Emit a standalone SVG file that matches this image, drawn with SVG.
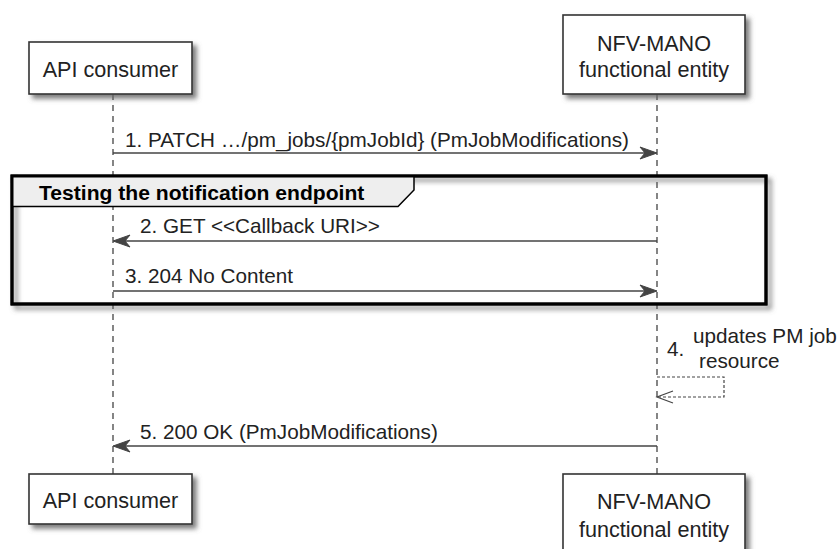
<svg xmlns="http://www.w3.org/2000/svg" width="839" height="549" viewBox="0 0 839 549">
<defs>
<filter id="sh" x="-10%" y="-10%" width="130%" height="140%">
<feDropShadow dx="4" dy="4" stdDeviation="2.5" flood-color="#666" flood-opacity="0.85"/>
</filter>
<style>
.box{fill:#fff;stroke:#333;stroke-width:1.6}
.lbl{font-family:"Liberation Sans",Arial,sans-serif;font-size:21.6px;fill:#222;text-anchor:middle}
.msg{font-family:"Liberation Sans",Arial,sans-serif;font-size:20.7px;fill:#222}
.life{stroke:#444;stroke-width:1.3;stroke-dasharray:6,5;fill:none}
.line{stroke:#444;stroke-width:1.3;fill:none}
.head{fill:#444;stroke:#444;stroke-width:1}
</style>
</defs>
<rect width="839" height="549" fill="#fff"/>
<g id="lifelines">
<line class="life" x1="113" y1="94" x2="113" y2="474"/>
<line class="life" x1="657" y1="94" x2="657" y2="474"/>
</g>
<g id="group-testing">
<rect x="12" y="176" width="754" height="128" fill="none" stroke="#000" stroke-width="3" filter="url(#sh)"/>
<path d="M12,176 H414 V190 L398,206.5 H12 Z" fill="#eee" stroke="#000" stroke-width="1.5"/>
<rect x="12" y="176" width="754" height="128" fill="none" stroke="#000" stroke-width="3"/>
<text x="39" y="200" font-family="'Liberation Sans',Arial,sans-serif" font-size="21.1px" font-weight="bold" fill="#000">Testing the notification endpoint</text>
</g>
<g id="api-consumer-top">
<rect class="box" x="29" y="42" width="163" height="52" filter="url(#sh)"/>
<text class="lbl" x="110.5" y="77">API consumer</text>
</g>
<g id="nfv-top">
<rect class="box" x="563" y="15" width="182" height="79" filter="url(#sh)"/>
<text class="lbl" x="654" y="51">NFV-MANO</text>
<text class="lbl" x="654" y="77">functional entity</text>
</g>
<g id="api-consumer-bottom">
<rect class="box" x="29" y="474" width="163" height="50" filter="url(#sh)"/>
<text class="lbl" x="110.5" y="508">API consumer</text>
</g>
<g id="nfv-bottom">
<rect class="box" x="563" y="474" width="182" height="79" filter="url(#sh)"/>
<text class="lbl" x="654" y="509">NFV-MANO</text>
<text class="lbl" x="654" y="537">functional entity</text>
</g>
<g id="connectors">
<line class="line" x1="113" y1="153" x2="650" y2="153"/>
<polygon class="head" points="657,153 640,147 645,153 640,159"/>
<line class="line" x1="120" y1="241" x2="657" y2="241"/>
<polygon class="head" points="113,241 130,235 125,241 130,247"/>
<line class="line" x1="113" y1="291" x2="650" y2="291"/>
<polygon class="head" points="657,291 640,285 645,291 640,297"/>
<path d="M657,377 H724 V397 H658" fill="none" stroke="#444" stroke-width="1.2" stroke-dasharray="3,2"/>
<polyline points="673,391 657,397 673,403" fill="none" stroke="#444" stroke-width="1.2"/>
<line class="line" x1="120" y1="446" x2="657" y2="446"/>
<polygon class="head" points="113,446 130,440 125,446 130,452"/>
</g>
<g id="labels">
<text class="msg" x="125" y="147">1. PATCH …/pm_jobs/{pmJobId} (PmJobModifications)</text>
<text class="msg" x="140" y="233">2. GET &lt;&lt;Callback URI&gt;&gt;</text>
<text class="msg" x="125" y="283">3. 204 No Content</text>
<text class="msg" x="667" y="356">4.</text>
<text class="msg" x="693" y="343">updates PM job</text>
<text class="msg" x="699" y="368">resource</text>
<text class="msg" x="140" y="439">5. 200 OK (PmJobModifications)</text>
</g>
</svg>
